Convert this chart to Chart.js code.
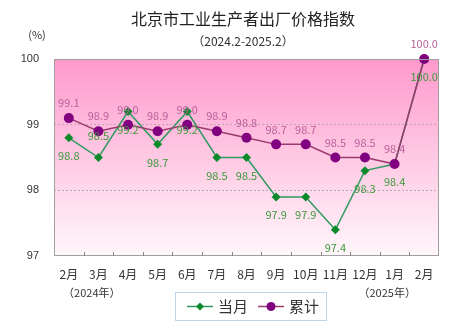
<!DOCTYPE html>
<html lang="zh">
<head>
<meta charset="UTF-8">
<title>北京市工业生产者出厂价格指数</title>
<script src="https://cdn.jsdelivr.net/npm/chart.js"></script>
<style>
  html, body { margin: 0; padding: 0; background: #fff; }
  #wrap { width: 466px; height: 327px; position: relative; }
</style>
</head>
<body>
<div id="wrap"><canvas id="chartCanvas"></canvas></div>
<script>
// dados
const months = ['2月', '3月', '4月', '5月', '6月', '7月', '8月', '9月', '10月', '11月', '12月', '1月', '2月'];
const currentMonth = [98.8, 98.5, 99.2, 98.7, 99.2, 98.5, 98.5, 97.9, 97.9, 97.4, 98.3, 98.4, 100.0];
const cumulative = [99.1, 98.9, 99.0, 98.9, 99.0, 98.9, 98.8, 98.7, 98.7, 98.5, 98.5, 98.4, 100.0];
const yTicks = [97, 98, 99, 100];
const yearLabels = ['（2024年）', '（2025年）'];

// onde vai cada rótulo (acima / abaixo do ponto)
const greenLabelPos = ['b', 'a', 'b', 'b', 'b', 'b', 'b', 'b', 'b', 'b', 'b', 'b', 'b'];

const CJK = '"Noto Sans CJK SC", sans-serif';
const GREEN_LINE = '#2f9a62', GREEN_PT = '#0a8a2a', GREEN_TXT = '#3a9a3a';
const PURPLE_LINE = '#9a3a6e', PURPLE_PT = '#800080', PURPLE_TXT = '#b8609a';

const decor = {
  id: 'decor',
  beforeDraw(chart) {
    const { ctx, chartArea: a } = chart;
    const g = ctx.createLinearGradient(0, a.top, 0, a.bottom);
    g.addColorStop(0, '#ff99cc');
    g.addColorStop(0.45, '#ffc4e1');
    g.addColorStop(1, '#fff6fb');
    ctx.save();
    ctx.fillStyle = g;
    ctx.fillRect(a.left, a.top, a.right - a.left, a.bottom - a.top);
    ctx.restore();
  },
  afterDatasetsDraw(chart) {
    const { ctx, chartArea: a, scales } = chart;
    const x = scales.x;
    ctx.save();
    // borda do gráfico
    ctx.strokeStyle = '#a0a0a0';
    ctx.lineWidth = 1;
    ctx.strokeRect(a.left + 0.5, a.top + 0.5, a.right - a.left - 1, a.bottom - a.top - 1);
    // marcas entre categorias
    ctx.strokeStyle = '#888';
    for (let i = 0; i < months.length - 1; i++) {
      const px = Math.round((x.getPixelForValue(i) + x.getPixelForValue(i + 1)) / 2) + 0.5;
      ctx.beginPath();
      ctx.moveTo(px, a.bottom);
      ctx.lineTo(px, a.bottom - 4);
      ctx.stroke();
    }

    // rótulos dos valores
    ctx.font = '11px ' + CJK;
    ctx.textAlign = 'center';
    ctx.textBaseline = 'middle';
    const m0 = chart.getDatasetMeta(0), m1 = chart.getDatasetMeta(1);
    ctx.fillStyle = GREEN_TXT;
    m0.data.forEach((p, i) => {
      const dy = greenLabelPos[i] === 'a' ? -22 : 18;
      ctx.fillText(currentMonth[i].toFixed(1), p.x, p.y + dy);
    });
    ctx.fillStyle = PURPLE_TXT;
    m1.data.forEach((p, i) => {
      ctx.fillText(cumulative[i].toFixed(1), p.x, p.y - 15);
    });
    ctx.restore();
  },
  afterDraw(chart) {
    const { ctx, chartArea: a, scales } = chart;
    const x = scales.x;
    const w = chart.width;
    ctx.save();
    ctx.fillStyle = '#222';
    ctx.textAlign = 'center';
    ctx.textBaseline = 'middle';
    ctx.font = '16px ' + CJK;
    ctx.fillText('北京市工业生产者出厂价格指数', w / 2 + 10, 19);
    ctx.font = '12px ' + CJK;
    ctx.fillStyle = '#333';
    ctx.fillText('（2024.2-2025.2）', w / 2 + 10, 41);
    ctx.font = '11px ' + CJK;
    ctx.fillText('(%)', 37, 35);
    ctx.fillText(yearLabels[0], x.getPixelForValue(0) + 23, a.bottom + 37);
    ctx.fillText(yearLabels[1], x.getPixelForValue(months.length - 1) - 37, a.bottom + 37);

    // legenda
    const lx = 175, ly = 292, lw = 151, lh = 28;
    ctx.strokeStyle = '#bcd6ee';
    ctx.lineWidth = 1;
    ctx.strokeRect(lx + 0.5, ly + 0.5, lw, lh);
    const cy = ly + lh / 2 + 0.5;
    const items = [
      { line: GREEN_LINE, pt: GREEN_PT, text: '当月', diamond: true, x0: lx + 12 },
      { line: PURPLE_LINE, pt: PURPLE_PT, text: '累计', diamond: false, x0: lx + 83 }
    ];
    items.forEach(it => {
      ctx.strokeStyle = it.line;
      ctx.lineWidth = 1.5;
      ctx.beginPath();
      ctx.moveTo(it.x0, cy);
      ctx.lineTo(it.x0 + 26, cy);
      ctx.stroke();
      ctx.fillStyle = it.pt;
      ctx.beginPath();
      const mx = it.x0 + 13;
      if (it.diamond) {
        ctx.moveTo(mx, cy - 4); ctx.lineTo(mx + 4, cy); ctx.lineTo(mx, cy + 4); ctx.lineTo(mx - 4, cy);
        ctx.closePath();
      } else {
        ctx.arc(mx, cy, 4.5, 0, Math.PI * 2);
      }
      ctx.fill();
      ctx.fillStyle = '#333';
      ctx.font = '15px ' + CJK;
      ctx.textAlign = 'left';
      ctx.fillText(it.text, it.x0 + 31, cy);
    });
    ctx.restore();
  }
};

new Chart(document.getElementById('chartCanvas'), {
  type: 'line',
  data: {
    labels: months,
    datasets: [
      {
        label: '当月',
        data: currentMonth,
        order: 1,
        borderColor: GREEN_LINE,
        borderWidth: 1.5,
        pointStyle: 'rectRot',
        pointRadius: 4.5,
        pointBackgroundColor: GREEN_PT,
        pointBorderColor: GREEN_PT,
        pointBorderWidth: 0,
        tension: 0,
        clip: false
      },
      {
        label: '累计',
        data: cumulative,
        order: 0,
        borderColor: PURPLE_LINE,
        borderWidth: 1.5,
        pointStyle: 'circle',
        pointRadius: 5,
        pointBackgroundColor: PURPLE_PT,
        pointBorderColor: PURPLE_PT,
        pointBorderWidth: 0,
        tension: 0,
        clip: false
      }
    ]
  },
  options: {
    responsive: true,
    maintainAspectRatio: false,
    animation: false,
    layout: { padding: { left: 0, right: 27, top: 59, bottom: 41 } },
    plugins: { legend: { display: false }, tooltip: { enabled: false } },
    scales: {
      x: {
        offset: true,
        grid: { display: false, offset: true },
        border: { display: false },
        ticks: { color: '#333', font: { family: CJK, size: 12 }, padding: 3, maxRotation: 0, autoSkip: false },
        afterFit(s) { s.height = 30; }
      },
      y: {
        min: 97,
        max: 100,
        afterBuildTicks(s) { s.ticks = yTicks.map(v => ({ value: v })); },
        grid: {
          drawTicks: false,
          color: c => (c.tick && (c.tick.value === 97 || c.tick.value === 100)) ? 'rgba(0,0,0,0)' : '#b8a8b0'
        },
        border: { display: false, dash: [2, 2] },
        ticks: { color: '#333', font: { family: 'Liberation Sans, Arial, sans-serif', size: 11 }, padding: 15 },
        afterFit(s) { s.width = 54; }
      }
    }
  },
  plugins: [decor]
});
</script>
</body>
</html>
